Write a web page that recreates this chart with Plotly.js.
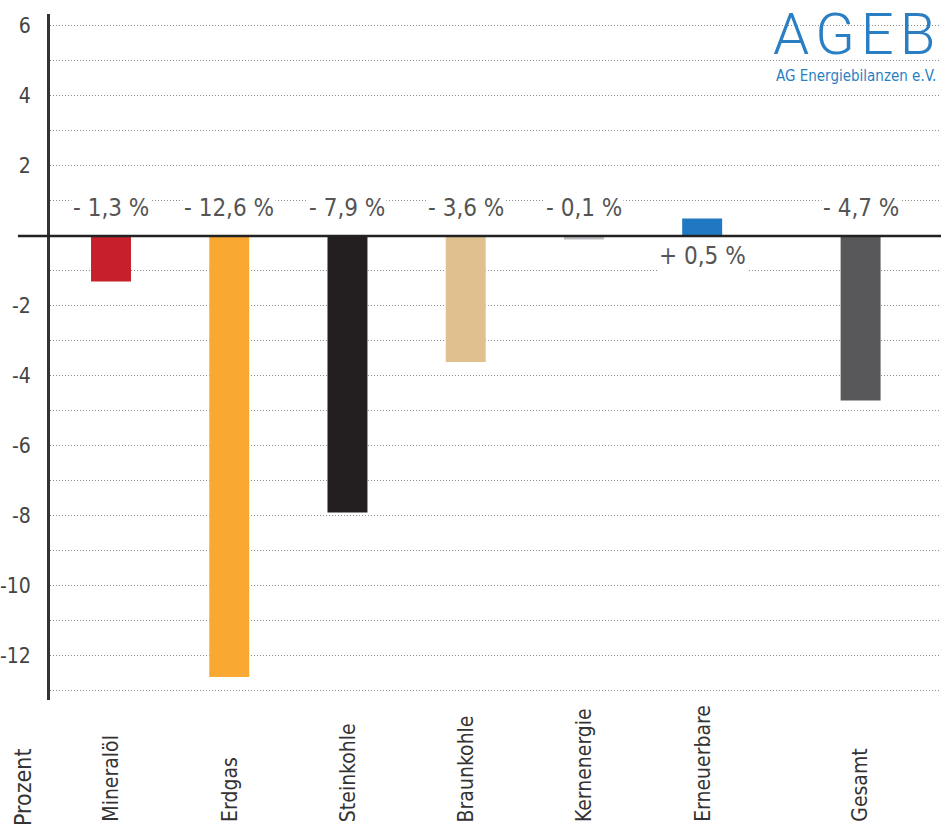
<!DOCTYPE html>
<html>
<head>
<meta charset="utf-8">
<script src="https://cdn.plot.ly/plotly-3.0.1.min.js"></script>
<style>html,body{margin:0;padding:0;background:#fff;}#chart{width:941px;height:829px;}</style>
</head>
<body>
<div id="chart"></div>
<script>
// ---- data ----
const categories = ["Mineralöl", "Erdgas", "Steinkohle", "Braunkohle", "Kernenergie", "Erneuerbare", "Gesamt"];
const changes = [-1.3, -12.6, -7.9, -3.6, -0.1, 0.5, -4.7];
const tickValues = [6, 4, 2, -2, -4, -6, -8, -10, -12];
const tickLabels = ["6", "4", "2", "-2", "-4", "-6", "-8", "-10", "-12"];
const yTitle = "Prozent";
const logoTitle = "A\u200aG\u200aE\u200aB";
const logoSub = "AG Energiebilanzen e.V.";

// ---- styles ----
const barColors = ["#c8202a", "#f9a932", "#231f20", "#dfc08e", "#bdbec2", "#1f78c1", "#58585a"];
const FONT = "'DejaVu Sans Condensed', 'Liberation Sans Narrow', 'Liberation Sans', sans-serif";
const gapBeforeTotal = 0.34;
const xpos = categories.map((c, i) => i + (i === categories.length - 1 ? gapBeforeTotal : 0));

function fmt(v) {
  return (v < 0 ? "- " : "+ ") + Math.abs(v).toFixed(1).replace(".", ",") + " %";
}

const trace = {
  type: "bar",
  x: xpos,
  y: changes,
  width: 0.338,
  marker: { color: barColors, line: { width: 0 } },
  hoverinfo: "skip",
  showlegend: false
};

const annotations = [];
categories.forEach((c, i) => {
  const v = changes[i];
  annotations.push({
    x: xpos[i], xref: "x", y: 0, yref: "y",
    text: fmt(v), showarrow: false,
    yanchor: v < 0 ? "bottom" : "top",
    yshift: v < 0 ? 12 : -4,
    bgcolor: "#ffffff",
    font: { family: FONT, size: 24, color: "#555555" }
  });
  annotations.push({
    x: xpos[i], xref: "x", y: -0.181, yref: "paper",
    text: c, showarrow: false, textangle: -90,
    xanchor: "center", yanchor: "bottom",
    font: { family: FONT, size: 21, color: "#333333" }
  });
});
annotations.push({
  x: -0.031, xref: "paper", y: -0.186, yref: "paper",
  text: yTitle, showarrow: false, textangle: -90,
  xanchor: "center", yanchor: "bottom",
  font: { family: FONT, size: 23, color: "#333333" }
});
annotations.push({
  x: 0.995, xref: "paper", y: 0.971, yref: "paper",
  text: logoTitle, showarrow: false, xanchor: "right", yanchor: "middle",
  font: { family: "Roboto, 'DejaVu Sans Condensed', sans-serif", size: 58, weight: 300, color: "#2a7fc4" }
});
annotations.push({
  x: 0.997, xref: "paper", y: 0.909, yref: "paper",
  text: logoSub, showarrow: false, xanchor: "right", yanchor: "middle",
  font: { family: FONT, size: 15, color: "#2a7fc4" }
});

const layout = {
  width: 941, height: 829,
  margin: { l: 50, r: 0, t: 14, b: 129 },
  paper_bgcolor: "#ffffff", plot_bgcolor: "#ffffff",
  xaxis: {
    range: [-0.516, 7.02], showgrid: false, zeroline: false,
    showticklabels: false, ticks: "", showline: false, fixedrange: true
  },
  yaxis: {
    range: [-13.26, 6.34],
    tickvals: tickValues, ticktext: tickLabels,
    ticks: "outside", ticklen: 12, tickcolor: "rgba(0,0,0,0)",
    tickfont: { family: FONT, size: 21, color: "#444444" },
    showgrid: true, gridcolor: "#8c8c8c", gridwidth: 1, griddash: "1px,2px",
    minor: { dtick: 1, showgrid: true, gridcolor: "#8c8c8c", gridwidth: 1, griddash: "1px,2px", ticks: "" },
    zeroline: false,
    showline: true, linecolor: "#333333", linewidth: 3,
    fixedrange: true
  },
  shapes: [{
    type: "line", xref: "paper", yref: "y",
    x0: -0.036, x1: 1, y0: 0, y1: 0,
    line: { color: "#222222", width: 2.5 }
  }],
  annotations: annotations
};

Plotly.newPlot("chart", [trace], layout, { displayModeBar: false, staticPlot: true });
</script>
</body>
</html>
